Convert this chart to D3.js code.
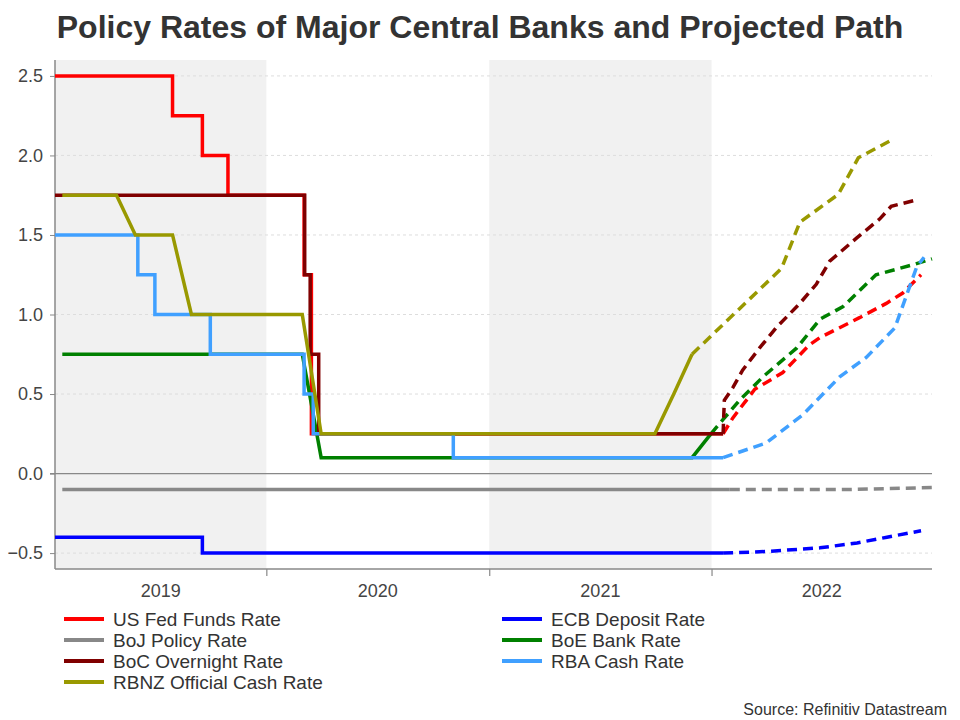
<!DOCTYPE html>
<html>
<head>
<meta charset="utf-8">
<script src="https://cdn.jsdelivr.net/npm/d3@7"></script>
<style>
  body { margin: 0; background: #fff; }
  svg { font-family: "Liberation Sans", Arial, sans-serif; }
</style>
</head>
<body>
<svg id="chart" width="960" height="720"></svg>
<script>
// actual policy rates, [date, rate]
const fedActual = [["2019-01-19", 2.5], ["2019-07-31", 2.25], ["2019-09-18", 2.0], ["2019-10-30", 1.75],
  ["2020-03-03", 1.25], ["2020-03-15", 0.25], ["2022-01-20", 0.25]]
const ecbActual = [["2019-01-19", -0.4], ["2019-09-18", -0.5], ["2022-01-20", -0.5]]
const bojActual = [["2019-01-31", -0.1], ["2022-01-31", -0.1]]
const boeActual = [["2019-01-31", 0.75], ["2020-02-29", 0.75], ["2020-03-31", 0.1], ["2021-11-30", 0.1], ["2021-12-31", 0.25]]
const bocActual = [["2019-01-19", 1.75], ["2020-03-04", 1.25], ["2020-03-13", 0.75], ["2020-03-27", 0.25], ["2022-01-20", 0.25]]
const rbaActual = [["2019-01-19", 1.5], ["2019-06-04", 1.25], ["2019-07-02", 1.0], ["2019-10-01", 0.75],
  ["2020-03-03", 0.5], ["2020-03-18", 0.25], ["2020-11-03", 0.1], ["2022-01-20", 0.1]]
const rbnzActual = [["2019-01-31", 1.75], ["2019-04-30", 1.75], ["2019-05-31", 1.5], ["2019-07-31", 1.5], ["2019-08-31", 1.0],
  ["2020-02-29", 1.0], ["2020-03-31", 0.25], ["2021-09-30", 0.25], ["2021-10-31", 0.5], ["2021-11-30", 0.75]]

// projected path (dashed)
const fedProj = [["2022-01-20", 0.25], ["2022-02-05", 0.35], ["2022-03-13", 0.53], ["2022-04-28", 0.635], ["2022-06-11", 0.81],
  ["2022-06-28", 0.855], ["2022-09-01", 0.98], ["2022-10-15", 1.07], ["2022-11-11", 1.135], ["2022-12-11", 1.25]]
const ecbProj = [["2022-01-20", -0.5], ["2022-04-01", -0.49], ["2022-06-28", -0.467], ["2022-08-28", -0.436],
  ["2022-10-16", -0.40], ["2022-12-11", -0.36]]
const bojProj = [["2022-01-31", -0.1], ["2022-08-15", -0.1], ["2022-12-29", -0.088]]
const boeProj = [["2021-12-31", 0.25], ["2022-01-20", 0.34], ["2022-02-17", 0.465], ["2022-03-27", 0.61], ["2022-05-21", 0.79],
  ["2022-06-28", 0.97], ["2022-08-05", 1.05], ["2022-09-28", 1.25], ["2022-11-30", 1.315], ["2022-12-29", 1.35]]
const bocProj = [["2022-01-20", 0.25], ["2022-01-22", 0.46], ["2022-02-05", 0.54], ["2022-02-21", 0.65], ["2022-03-21", 0.79],
  ["2022-04-18", 0.92], ["2022-05-26", 1.07], ["2022-06-22", 1.19], ["2022-07-14", 1.335], ["2022-08-27", 1.48],
  ["2022-10-04", 1.60], ["2022-10-23", 1.68], ["2022-12-03", 1.72]]
const rbaProj = [["2022-01-20", 0.1], ["2022-04-01", 0.193], ["2022-05-31", 0.37], ["2022-07-31", 0.61], ["2022-09-12", 0.73],
  ["2022-10-29", 0.916], ["2022-12-04", 1.30], ["2022-12-16", 1.36]]
const rbnzProj = [["2021-11-30", 0.75], ["2022-04-26", 1.29], ["2022-05-26", 1.58], ["2022-07-28", 1.755],
  ["2022-08-30", 1.985], ["2022-10-25", 2.10]]

const seriesNames = ["US Fed Funds Rate", "ECB Deposit Rate", "BoJ Policy Rate", "BoE Bank Rate",
  "BoC Overnight Rate", "RBA Cash Rate", "RBNZ Official Cash Rate"]
const actualRates = [fedActual, ecbActual, bojActual, boeActual, bocActual, rbaActual, rbnzActual]
const projRates = [fedProj, ecbProj, bojProj, boeProj, bocProj, rbaProj, rbnzProj]
const stepped = [true, true, false, false, true, true, false]
const colors = ["#ff0000", "#0000ff", "#888888", "#008000", "#800000", "#40a0ff", "#999900"]

const yTicks = [-0.5, 0, 0.5, 1.0, 1.5, 2.0, 2.5]
const years = [2019, 2020, 2021, 2022]
const shadedYears = [2019, 2021]

const parse = d3.timeParse("%Y-%m-%d")

// layout
const margin = { left: 55, right: 28, top: 60, bottom: 151 }
const width = 960, height = 720

const svg = d3.select("#chart")

const x = d3.scaleTime()
  .domain([parse("2019-01-19"), parse("2022-12-29")])
  .range([margin.left, width - margin.right])
const y = d3.scaleLinear()
  .domain([-0.6, 2.6])
  .range([height - margin.bottom, margin.top])

const [x0, x1] = x.range()
const [yb, yt] = y.range()

// grey bands for alternating years
svg.selectAll(".band")
  .data(shadedYears)
  .join("rect")
    .attr("x", d => Math.max(x0, x(new Date(d, 0, 1))))
    .attr("y", yt)
    .attr("width", d => Math.min(x1, x(new Date(d + 1, 0, 1))) - Math.max(x0, x(new Date(d, 0, 1))))
    .attr("height", yb - yt)
    .attr("fill", "#f1f1f1")

// gridlines
svg.selectAll(".grid")
  .data(yTicks.filter(d => d !== 0))
  .join("line")
    .attr("x1", x0).attr("x2", x1)
    .attr("y1", d => y(d)).attr("y2", d => y(d))
    .attr("stroke", "#dddddd")
    .attr("stroke-dasharray", "3,3")

// zero line
svg.append("line")
  .attr("x1", x0 - 5).attr("x2", x1)
  .attr("y1", y(0)).attr("y2", y(0))
  .attr("stroke", "#888")
  .attr("stroke-width", 1.2)

// y axis
const yAxis = d3.axisLeft(y)
  .tickValues(yTicks)
  .tickFormat(d3.format(".1f"))
  .tickSize(5)
  .tickPadding(7)
const gy = svg.append("g")
  .attr("transform", `translate(${x0},0)`)
  .call(yAxis)
gy.select(".domain").remove()
gy.selectAll(".tick line").attr("stroke", "#888")
gy.selectAll(".tick text")
  .attr("fill", "#444")
  .style("font-size", "18px")
  .style("font-family", "Liberation Sans, Arial, sans-serif")
svg.append("line")
  .attr("x1", x0).attr("x2", x0)
  .attr("y1", yt).attr("y2", yb)
  .attr("stroke", "#888")
  .attr("stroke-width", 1.5)

// x axis: ticks at year boundaries, labels centred in each year
const xAxis = d3.axisBottom(x)
  .tickValues(years.slice(1).map(d => new Date(d, 0, 1)))
  .tickFormat("")
  .tickSize(7)
const gx = svg.append("g")
  .attr("transform", `translate(0,${yb})`)
  .call(xAxis)
gx.select(".domain").remove()
gx.selectAll(".tick line").attr("stroke", "#888").attr("stroke-width", 1.2)
svg.append("line")
  .attr("x1", x0).attr("x2", x1)
  .attr("y1", yb).attr("y2", yb)
  .attr("stroke", "#888")
  .attr("stroke-width", 1.5)

svg.selectAll(".year")
  .data(years)
  .join("text")
    .attr("x", d => (Math.max(x0, x(new Date(d, 0, 1))) + Math.min(x1, x(new Date(d + 1, 0, 1)))) / 2)
    .attr("y", yb + 28)
    .attr("text-anchor", "middle")
    .attr("fill", "#444")
    .style("font-size", "18px")
    .text(d => d)

// lines
const lineLinear = d3.line()
  .x(d => x(parse(d[0])))
  .y(d => y(d[1]))
const lineStep = d3.line()
  .x(d => x(parse(d[0])))
  .y(d => y(d[1]))
  .curve(d3.curveStepAfter)

const lines = svg.append("g").attr("fill", "none").attr("stroke-width", 3.5)
seriesNames.forEach((name, i) => {
  lines.append("path")
    .attr("d", (stepped[i] ? lineStep : lineLinear)(actualRates[i]))
    .attr("stroke", colors[i])
  lines.append("path")
    .attr("d", lineLinear(projRates[i]))
    .attr("stroke", colors[i])
    .attr("stroke-dasharray", "10,6")
})

// title
svg.append("text")
  .attr("x", 480)
  .attr("y", 38)
  .attr("text-anchor", "middle")
  .attr("fill", "#333")
  .style("font-size", "32px")
  .style("font-weight", "bold")
  .text("Policy Rates of Major Central Banks and Projected Path")

// legend, filled row by row in two columns
const legend = svg.append("g")
const legendItems = legend.selectAll("g")
  .data(seriesNames)
  .join("g")
    .attr("transform", (d, i) => `translate(${i % 2 === 0 ? 64 : 502},${619 + Math.floor(i / 2) * 21})`)
legendItems.append("line")
  .attr("x1", 0).attr("x2", 40)
  .attr("stroke", (d, i) => colors[i])
  .attr("stroke-width", 4)
legendItems.append("text")
  .attr("x", 49)
  .attr("y", 6.5)
  .attr("fill", "#333")
  .style("font-size", "19px")
  .text(d => d)

svg.append("text")
  .attr("x", 947)
  .attr("y", 715)
  .attr("text-anchor", "end")
  .attr("fill", "#333")
  .style("font-size", "16px")
  .text("Source: Refinitiv Datastream")
</script>
</body>
</html>
